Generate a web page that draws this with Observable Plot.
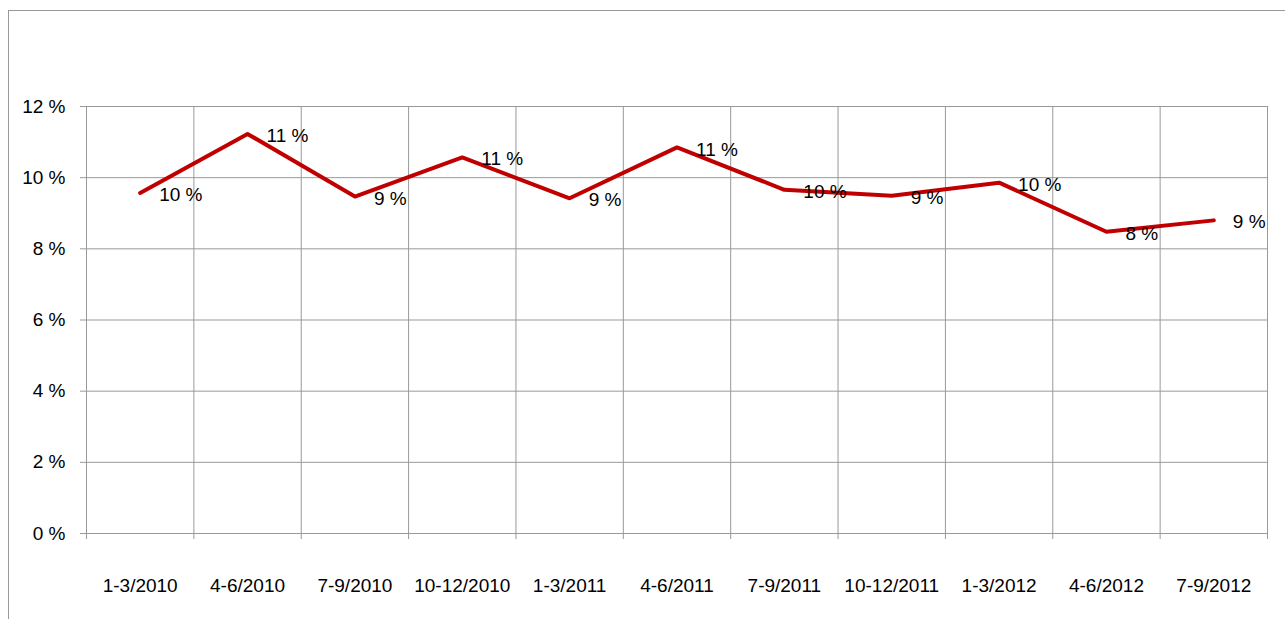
<!DOCTYPE html>
<html><head><meta charset="utf-8">
<script src="https://cdn.jsdelivr.net/npm/d3@7"></script>
<script src="https://cdn.jsdelivr.net/npm/@observablehq/plot@0.6"></script>
<style>
html,body{margin:0;padding:0;background:#fff;overflow:hidden;}
#wrap{position:relative;width:1285px;height:619px;overflow:hidden;}
#border{position:absolute;left:8px;top:10px;width:1400px;height:800px;border-left:1px solid #999;border-top:1px solid #999;}
#chart{position:absolute;left:0;top:0;}
</style></head><body>
<div id="wrap"><div id="border"></div><div id="chart"></div></div>
<script>
const categories = ["1-3/2010","4-6/2010","7-9/2010","10-12/2010","1-3/2011","4-6/2011","7-9/2011","10-12/2011","1-3/2012","4-6/2012","7-9/2012"];
const values = [9.57, 11.23, 9.47, 10.57, 9.42, 10.85, 9.66, 9.49, 9.86, 8.48, 8.80];
const yTicks = [0, 2, 4, 6, 8, 10, 12];

const data = categories.map((c, i) => ({i: i + 0.5, c, v: values[i]}));
const boundaries = d3.range(categories.length + 1);

const chart = Plot.plot({
  width: 1285, height: 619,
  marginLeft: 86, marginRight: 18, marginTop: 106, marginBottom: 86,
  style: {fontFamily: "'Liberation Sans', Arial, sans-serif", fontSize: "19px", color: "#000", background: "transparent"},
  x: {domain: [0, categories.length], label: null},
  y: {domain: [0, 12], label: null},
  marks: [
    Plot.ruleY(yTicks, {stroke: "#999", insetLeft: -6, strokeWidth: 1}),
    Plot.ruleX(boundaries, {stroke: "#999", insetBottom: -6, strokeWidth: 1}),
    Plot.axisY(yTicks, {tickSize: 0, tickPadding: 21, tickFormat: d => d + " %", fill: "#000", label: null}),
    Plot.axisX(data.map(d => d.i), {tickSize: 0, tickPadding: 45, tickFormat: i => categories[Math.floor(i)], fill: "#000", label: null}),
    Plot.line(data, {x: "i", y: "v", stroke: "#c00000", strokeWidth: 4, strokeLinejoin: "round", strokeLinecap: "round"}),
    Plot.text(data, {x: "i", y: "v", text: d => Math.round(d.v) + " %", textAnchor: "start", dx: 19, dy: 2, fill: "#000"})
  ]
});
document.getElementById("chart").appendChild(chart);
</script>
</body></html>
